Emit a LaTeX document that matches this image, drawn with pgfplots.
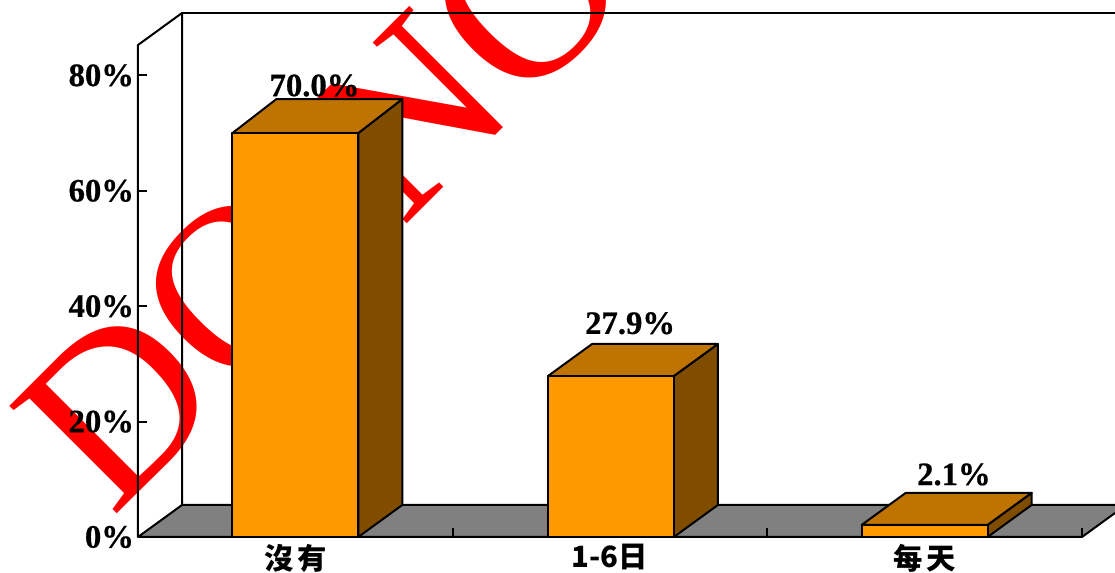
\documentclass[border=0pt]{standalone}
\usepackage{fontspec}
\usepackage{pgfplots}
\pgfplotsset{compat=1.18}
\setmainfont{Liberation Serif}[BoldFeatures={FakeBold=0.6}]
\newfontfamily\cjk{Noto Sans CJK TC}
\definecolor{barfront}{HTML}{FF9900}
\definecolor{bartop}{HTML}{BF7300}
\definecolor{barside}{HTML}{804D00}
\definecolor{floorgray}{HTML}{808080}
\begin{document}
\begin{tikzpicture}
    % picture frame: 1115x573 px at 0.75pt per px, axis corner at px (138,537)
    \path[clip, use as bounding box] (-103.5pt,-27pt) rectangle (732.75pt,402.75pt);
    % watermark sits behind everything
    \node[rotate=45, anchor=base west, inner sep=0pt, text=red,
          font=\fontsize{174}{174}\selectfont] at (-19.1pt,13.9pt) {DO\hspace{0.07em} NO};
    \begin{axis}[
            at={(0pt,0pt)},
            anchor=south west,
            scale only axis,
            width=708pt,
            height=369pt,
            xmin=0, xmax=3,
            ymin=0, ymax=85.27,
            clip=false,
            axis on top,
            axis x line*=bottom,
            axis y line*=left,
            axis line style={-, line width=1.5pt},
            every tick/.style={black, line width=1.5pt},
            tick align=inside,
            major tick length=6.75pt,
            ytick={0,20,40,60,80},
            yticklabels={0\%,20\%,40\%,60\%,80\%},
            yticklabel style={font=\fontsize{24.5}{25}\selectfont\bfseries, xshift=0.5pt},
            xtick={0,1,2,3},
            xticklabels={,,,},
            extra x ticks={0.5,1.5,2.5},
            extra x tick labels={沒\hspace{0.12em}有,1-6日\hspace{0.2em},每\hspace{0.12em}天},
            extra x tick style={major tick length=0pt},
            xticklabel style={font=\fontsize{22}{24}\selectfont\cjk\bfseries, yshift=-2pt},
            every axis plot/.append style={line join=round, line width=1.5pt},
        ]
        % walls and floor
        \addplot[draw=black]
            coordinates {(0,0) (0,85.27) (0.14,90.82) (0.14,5.55)};
        \addplot[draw=black]
            coordinates {(0.14,90.82) (3.2,90.82)};
        \addplot[fill=floorgray, draw=black]
            coordinates {(0,0) (0.14,5.55) (3.14,5.55) (3,0)} --cycle;

        % side faces
        \addplot[fill=barside, draw=black]
            coordinates {(0.7,0) (0.84,5.55) (0.84,75.9) (0.7,70)} --cycle;
        \addplot[fill=barside, draw=black]
            coordinates {(1.703,0) (1.843,5.55) (1.843,33.45) (1.703,27.9)} --cycle;
        \addplot[fill=barside, draw=black]
            coordinates {(2.7,0) (2.84,5.55) (2.84,7.65) (2.7,2.1)} --cycle;
        % top faces
        \addplot[fill=bartop, draw=black]
            coordinates {(0.3,70) (0.44,75.9) (0.84,75.9) (0.7,70)} --cycle;
        \addplot[fill=bartop, draw=black]
            coordinates {(1.303,27.9) (1.443,33.45) (1.843,33.45) (1.703,27.9)} --cycle;
        \addplot[fill=bartop, draw=black]
            coordinates {(2.3,2.1) (2.44,7.65) (2.84,7.65) (2.7,2.1)} --cycle;
        % front faces
        \addplot[ybar, bar width=94.5pt, fill=barfront, draw=black]
            coordinates {(0.5,70) (1.503,27.9) (2.5,2.1)};

        % value labels, set above the top faces
        \addplot[draw=none, mark=none,
                 point meta=explicit symbolic,
                 nodes near coords,
                 nodes near coords style={anchor=base, inner sep=0pt,
                     font=\fontsize{24.5}{25}\selectfont\bfseries}]
            coordinates {(0.561,76.4)[70.0\%] (1.564,35.2)[27.9\%] (2.593,9.0)[2.1\%]};
    \end{axis}
\end{tikzpicture}
\end{document}
